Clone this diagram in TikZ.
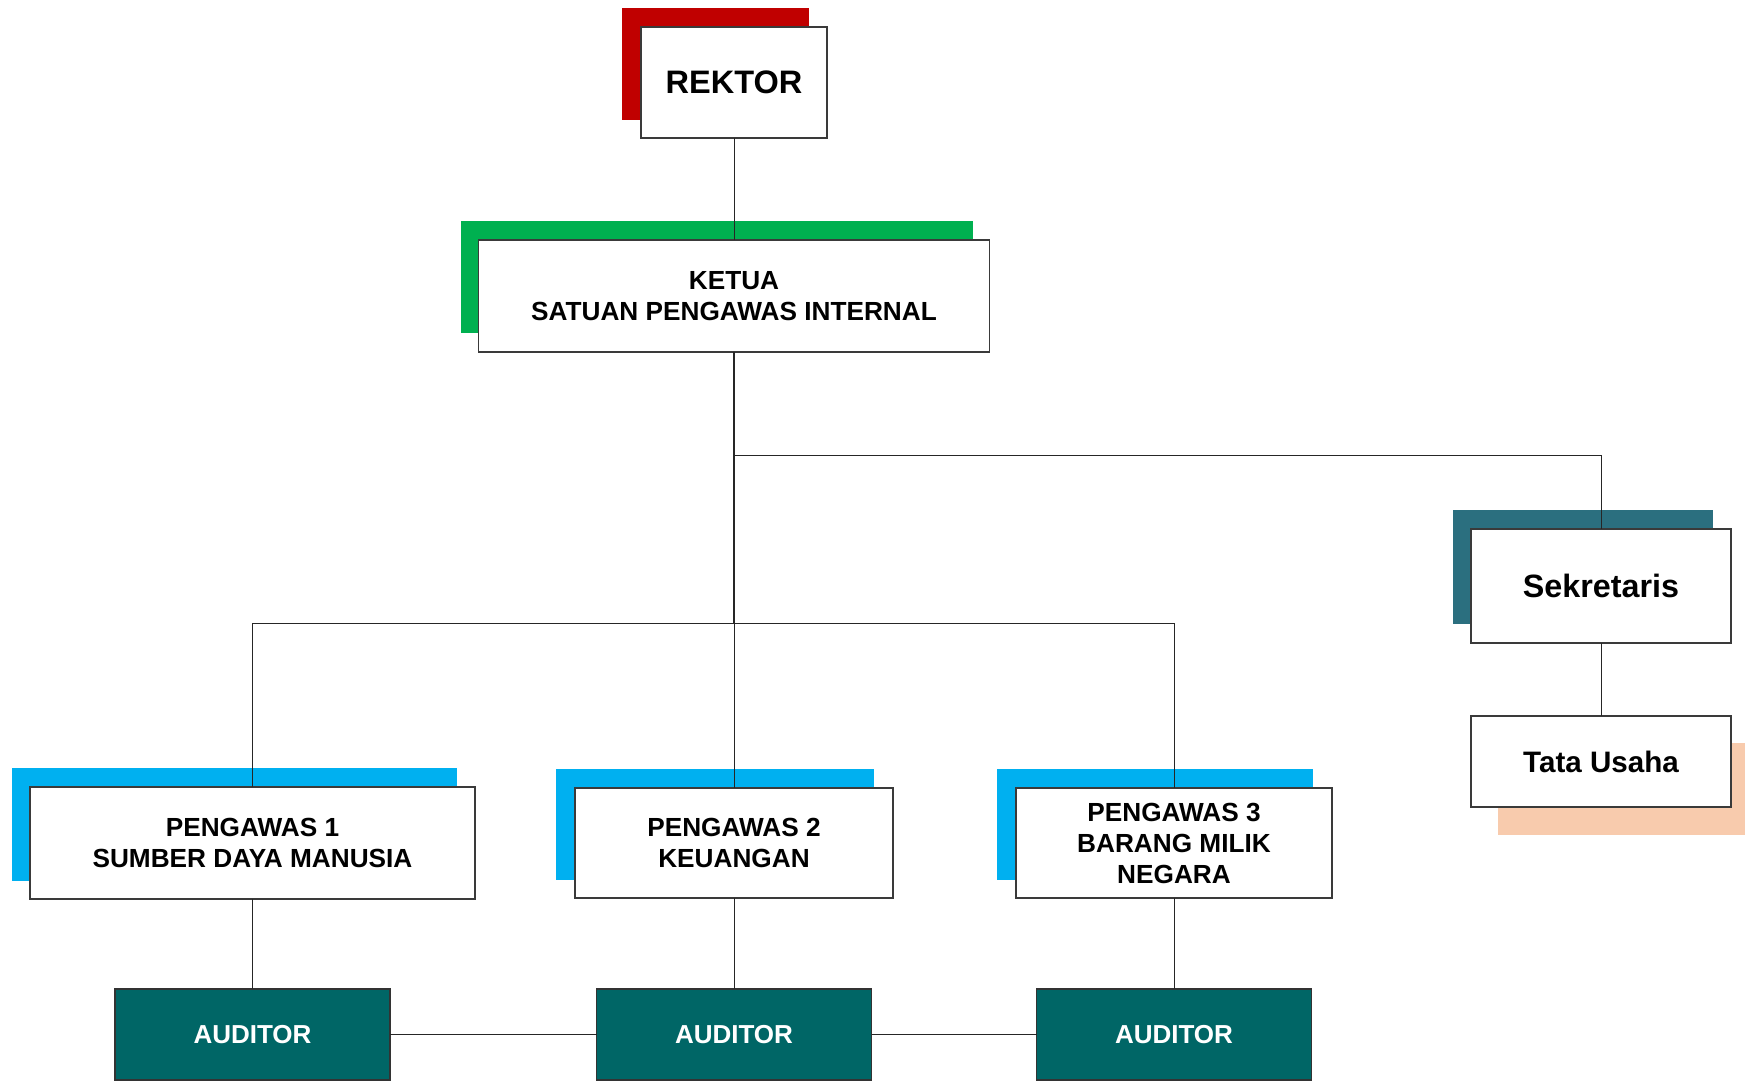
\documentclass[tikz,border=0pt]{standalone}
\usepackage{fontspec}
\setmainfont{Liberation Sans}
\definecolor{rektorred}{HTML}{C00000}
\definecolor{ketuagreen}{HTML}{00B050}
\definecolor{sekteal}{HTML}{2B6F7F}
\definecolor{pengblue}{HTML}{00B0F0}
\definecolor{tupeach}{HTML}{F8CBAD}
\definecolor{auditteal}{HTML}{006666}
\definecolor{edgegray}{HTML}{3A3A3A}
\begin{document}
\begin{tikzpicture}[x=1pt,y=-1pt,
  backing/.style={fill=#1, draw=none, inner sep=0pt, outer sep=0pt},
  unit/.style={draw=edgegray, line width=1.2pt, fill=white, inner sep=0pt, outer sep=0pt,
    align=center, font=\fontsize{26.2}{31}\selectfont\bfseries},
  auditbox/.style={draw=black!80, line width=1.2pt, fill=auditteal, text=white, inner sep=0pt,
    outer sep=0pt, minimum width=275pt, minimum height=91pt,
    font=\fontsize{26}{30}\selectfont\bfseries},
  link/.style={draw=black!85, line width=1pt}]
\useasboundingbox (0,0) rectangle (1745,1080);

% coloured backing plates
\node[backing=rektorred, minimum width=187pt, minimum height=112pt] (rektorback) at (715.5,64) {};
\node[backing=ketuagreen, minimum width=512pt, minimum height=112pt] (ketuaback) at (716.5,277) {};
\node[backing=sekteal, minimum width=260pt, minimum height=114pt] (sekback) at (1583,567) {};
\node[backing=tupeach, minimum width=247pt, minimum height=92pt] (tuback) at (1621.5,789) {};
\node[backing=pengblue, minimum width=445pt, minimum height=113pt] (p1back) at (234.5,824.5) {};
\node[backing=pengblue, minimum width=318pt, minimum height=111pt] (p2back) at (715,824.5) {};
\node[backing=pengblue, minimum width=316pt, minimum height=111pt] (p3back) at (1155,824.5) {};

% unit boxes
\node[unit, minimum width=186pt, minimum height=111pt, font=\fontsize{32.5}{36}\selectfont\bfseries] (rektor) at (734,82.5) {REKTOR};
\node[unit, minimum width=511pt, minimum height=112pt] (ketua) at (734,296) {KETUA\\SATUAN PENGAWAS INTERNAL};
\node[unit, minimum width=260pt, minimum height=114pt, font=\fontsize{32.3}{36}\selectfont\bfseries] (sek) at (1601,586) {Sekretaris};
\node[unit, minimum width=260pt, minimum height=91pt, font=\fontsize{29.6}{34}\selectfont\bfseries] (tata) at (1601,761.5) {Tata Usaha};
\node[unit, minimum width=445pt, minimum height=112pt] (p1) at (252.5,843) {PENGAWAS 1\\SUMBER DAYA MANUSIA};
\node[unit, minimum width=318pt, minimum height=110pt] (p2) at (734,843) {PENGAWAS 2\\KEUANGAN};
\node[unit, minimum width=316pt, minimum height=110pt] (p3) at (1174,843) {PENGAWAS 3\\BARANG MILIK\\NEGARA};

\node[auditbox] (a1) at (252.5,1034.5) {AUDITOR};
\node[auditbox] (a2) at (734,1034.5) {AUDITOR};
\node[auditbox] (a3) at (1174,1034.5) {AUDITOR};

% junction points on the trunk below the chairman
\coordinate (sekjoin) at (734,455);
\coordinate (bus) at (734,623);

% connectors; the ones crossing a coloured plate run over it
\draw[link] (rektor.south) -- (ketua.north);
\draw[link, line width=1.7pt] (ketua.south) -- (bus);
\draw[link] (sekjoin) -| (sek.north);
\draw[link] (p1.north) -- (p1.north |- bus) -- (p3.north |- bus) -- (p3.north);
\draw[link] (bus) -- (p2.north);
\draw[link] (sek.south) -- (tata.north);
\draw[link] (p1.south) -- (a1.north);
\draw[link] (p2.south) -- (a2.north);
\draw[link] (p3.south) -- (a3.north);
\draw[link] (a1.east) -- (a2.west);
\draw[link] (a2.east) -- (a3.west);
\end{tikzpicture}
\end{document}
